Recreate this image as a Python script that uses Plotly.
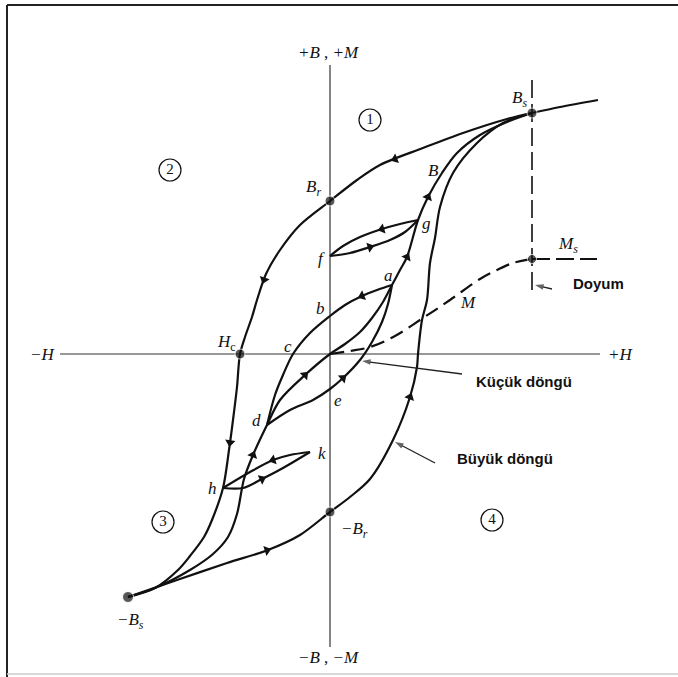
import math
import plotly.graph_objects as go

# ---- Hysteresis data: field H (x) and flux density B (y), drawing units ----
# Major loop, descending branch (Bs -> Br -> Hc -> -Bs)
major_down_H = [202, 177, 133, 93, 50, 27, 0, -30, -50, -64, -73, -78, -85, -90,
                -93, -97, -101, -107, -118, -126, -140, -152, -175, -202]
major_down_B = [241, 235, 221, 206, 189, 174, 153, 129, 104, 80, 54, 37, 17, 0,
                -33, -66, -96, -134, -166, -183, -202, -216, -234, -243]

# Major loop, ascending branch (-Bs -> -Br -> Bs)
major_up_H = [-202, -153, -103, -62, -30, 0, 20, 40, 63, 80, 87, 88, 92, 97,
              100, 105, 110, 123, 147, 173, 202]
major_up_B = [-243, -226, -209, -196, -181, -158, -143, -125, -86, -43, -13, 0, 34, 54,
              91, 116, 147, 181, 211, 231, 241]

# Initial magnetisation curve through the origin (-Bs ... d, O, a, g, B ... Bs)
initial_H = [-202, -175, -140, -117, -102, -93, -86, -77, -63, -50, -25, 0, 15, 30,
             42, 53, 62, 70, 77, 88, 98, 112, 127, 150, 177, 202]
initial_B = [-243, -234, -216, -200, -183, -160, -125, -101, -71, -46, -21, 0, 10, 22,
             36, 52, 69, 84, 97, 134, 157, 181, 201, 219, 232, 241]

# Minor loop a -> b -> c -> d and back d -> e -> a
abcd_H = [62, 47, 32, 15, 0, -20, -37, -47, -55, -63]
abcd_B = [69, 64, 58, 49, 38, 21, 0, -21, -41, -71]
dea_H = [-63, -40, -17, 0, 13, 30, 42, 52, 58, 62]
dea_B = [-71, -56, -46, -35, -24, -6, 12, 32, 50, 69]

# Minor loop g -> f -> g
fg_top_H = [88, 70, 52, 30, 13, 0]
fg_top_B = [134, 130, 125, 117, 108, 98]
fg_bot_H = [0, 20, 40, 60, 75, 88]
fg_bot_B = [98, 101, 107, 114, 122, 134]

# Minor loop k -> h -> k
hk_top_H = [-20, -40, -57, -80, -107]
hk_top_B = [-98, -101, -106, -118, -134]
hk_bot_H = [-107, -87, -68, -47, -20]
hk_bot_B = [-134, -134, -125, -114, -98]

# Magnetisation M (dashed) up to saturation Ms, then flat
m_H = [0, 20, 40, 65, 93, 120, 150, 167, 183, 202]
m_B = [0, 3, 7, 18, 36, 54, 75, 84, 91, 95]
ms_flat_H = [202, 267]
ms_flat_B = [95, 95]

# Continuation beyond saturation
beyond_H = [202, 230, 268]
beyond_B = [241, 247, 254]

# Saturation marker line
sat_line_H = [202, 202]
sat_line_B = [274, 61]

# Axes extents
h_axis = [-270, 270]
b_axis = [289, -293]

# Marked points
dot_names = ["Bs", "Br", "Hc", "-Br", "-Bs", "Ms"]
dot_H = [202, 0, -90, 0, -202, 202]
dot_B = [241, 153, 0, -158, -243, 95]

# Direction arrows: (curve, H position)
curves = {
    "major_down": (major_down_H, major_down_B),
    "major_up": (major_up_H, major_up_B),
    "initial": (initial_H, initial_B),
    "abcd": (abcd_H, abcd_B),
    "dea": (dea_H, dea_B),
    "fg_top": (fg_top_H, fg_top_B),
    "fg_bot": (fg_bot_H, fg_bot_B),
    "hk_top": (hk_top_H, hk_top_B),
    "hk_bot": (hk_bot_H, hk_bot_B),
}
arrow_curve = ["major_down", "major_down", "major_down", "major_up", "major_up",
               "initial", "initial", "initial", "initial", "abcd", "dea",
               "fg_top", "fg_bot", "hk_top", "hk_bot"]
arrow_at_H = [65, -66, -100, -63, 80, -77, -25, 77, 98, 32, 13, 52, 40, -57, -68]

# Labels
label_text = ["<i>+B</i> , <i>+M</i>", "<i>−B</i> , <i>−M</i>", "<i>−H</i>", "<i>+H</i>",
              "<i>B<sub>s</sub></i>", "<i>B<sub>r</sub></i>", "<i>H</i><sub>c</sub>",
              "<i>−B<sub>r</sub></i>", "<i>−B<sub>s</sub></i>", "<i>M<sub>s</sub></i>",
              "<i>M</i>", "<i>B</i>", "<i>g</i>", "<i>f</i>", "<i>a</i>", "<i>b</i>",
              "<i>c</i>", "<i>d</i>", "<i>e</i>", "<i>h</i>", "<i>k</i>"]
label_H = [-2, -2, -288, 290, 189, -17, -104, 24, -200, 238, 138, 103, 96, -9, 58,
           -10, -42, -74, 8, -118, -8]
label_B = [302, -303, 0, 0, 255, 166, 11, -176, -267, 109, 52, 184, 131, 96, 79,
           46, 8, -66, -46, -134, -99]

quadrant_text = ["1", "2", "3", "4"]
quadrant_H = [40, -160, -167, 162]
quadrant_B = [234, 184, -168, -166]

# Callout notes with pointer lines (tail near the text, tip at the curve)
note_text = ["Doyum", "Küçük döngü", "Büyük döngü"]
note_H = [268, 194, 175]
note_B = [71, -27, -104]
note_tail_H = [222, 132, 105]
note_tail_B = [65, -20, -109]
note_tip_H = [205, 32, 65]
note_tip_B = [69, -7, -88]

INK = "#111111"
fig = go.Figure()

# axes
fig.add_trace(go.Scatter(x=h_axis, y=[0, 0], mode="lines",
                         line=dict(color="#333333", width=1.2)))
fig.add_trace(go.Scatter(x=[0, 0], y=b_axis, mode="lines",
                         line=dict(color="#333333", width=1.2)))

# saturation dashed lines and M curve
fig.add_trace(go.Scatter(x=sat_line_H, y=sat_line_B, mode="lines",
                         line=dict(color=INK, width=1.6, dash="18px,6px")))
fig.add_trace(go.Scatter(x=m_H, y=m_B, mode="lines", line_shape="spline",
                         line=dict(color=INK, width=2.2, dash="14px,7px")))
fig.add_trace(go.Scatter(x=ms_flat_H, y=ms_flat_B, mode="lines",
                         line=dict(color=INK, width=2.2, dash="18px,6px")))

# solid curves
for hx, by in [(major_down_H, major_down_B), (major_up_H, major_up_B),
               (initial_H, initial_B), (abcd_H, abcd_B), (dea_H, dea_B),
               (fg_top_H, fg_top_B), (fg_bot_H, fg_bot_B),
               (hk_top_H, hk_top_B), (hk_bot_H, hk_bot_B), (beyond_H, beyond_B)]:
    fig.add_trace(go.Scatter(x=hx, y=by, mode="lines", line_shape="spline",
                             line=dict(color=INK, width=2.2, smoothing=0.9)))


def arrow_on(hx, by, h0):
    """Point on a polyline at abscissa h0 and its heading (deg, clockwise from up)."""
    for i in range(len(hx) - 1):
        a, b = hx[i], hx[i + 1]
        if min(a, b) <= h0 <= max(a, b) and a != b:
            t = (h0 - a) / (b - a)
            y = by[i] + t * (by[i + 1] - by[i])
            ang = math.degrees(math.atan2(b - a, by[i + 1] - by[i]))
            return h0, y, ang
    return hx[0], by[0], 0


ax_x, ax_y, ax_a = [], [], []
for name, h0 in zip(arrow_curve, arrow_at_H):
    x, y, a = arrow_on(*curves[name], h0)
    ax_x.append(x)
    ax_y.append(y)
    ax_a.append(a)
fig.add_trace(go.Scatter(x=ax_x, y=ax_y, mode="markers",
                         marker=dict(symbol="triangle-up", size=9, color=INK,
                                     angle=ax_a, line=dict(width=0))))

# pointer lines of the callouts, arrowhead oriented by the segment
for tx, ty, hx, hy in zip(note_tail_H, note_tail_B, note_tip_H, note_tip_B):
    fig.add_trace(go.Scatter(x=[tx, hx], y=[ty, hy], mode="lines+markers",
                             line=dict(color="#222222", width=1.3),
                             marker=dict(symbol="arrow", size=[0, 9], color="#222222",
                                         angleref="previous", line=dict(width=0))))

# marked points
fig.add_trace(go.Scatter(x=dot_H, y=dot_B, mode="markers",
                         marker=dict(size=[10, 10, 10, 10, 11, 9], color=INK)))

# circled quadrant numbers
fig.add_trace(go.Scatter(x=quadrant_H, y=quadrant_B, mode="markers+text",
                         text=quadrant_text, textposition="middle center",
                         textfont=dict(family="Liberation Serif", size=15, color=INK),
                         marker=dict(symbol="circle-open", size=22,
                                     color=INK, line=dict(width=1.2))))

annotations = []
for t, x, y in zip(label_text, label_H, label_B):
    annotations.append(dict(x=x, y=y, text=t, showarrow=False,
                            font=dict(family="Liberation Serif", size=17, color=INK)))
for t, x, y in zip(note_text, note_H, note_B):
    annotations.append(dict(x=x, y=y, text="<b>" + t + "</b>", showarrow=False,
                            font=dict(family="Liberation Sans", size=15, color=INK)))

# frame around the figure
W, HGT = 678, 677
shapes = [
    dict(type="line", xref="paper", yref="paper", x0=7 / W, x1=1, y0=1 - 5 / HGT,
         y1=1 - 5 / HGT, line=dict(color="#222222", width=2)),
    dict(type="line", xref="paper", yref="paper", x0=7 / W, x1=7 / W, y0=0,
         y1=1 - 5 / HGT, line=dict(color="#222222", width=2)),
    dict(type="line", xref="paper", yref="paper", x0=7 / W, x1=1, y0=3 / HGT,
         y1=3 / HGT, line=dict(color="#cccccc", width=1.5)),
]

fig.update_layout(
    width=W, height=HGT, margin=dict(l=0, r=0, t=0, b=0),
    paper_bgcolor="white", plot_bgcolor="white", showlegend=False,
    xaxis=dict(range=[-330, 348], visible=False, fixedrange=True),
    yaxis=dict(range=[-323, 354], visible=False, fixedrange=True),
    annotations=annotations, shapes=shapes,
)
fig.write_html("out.html")
